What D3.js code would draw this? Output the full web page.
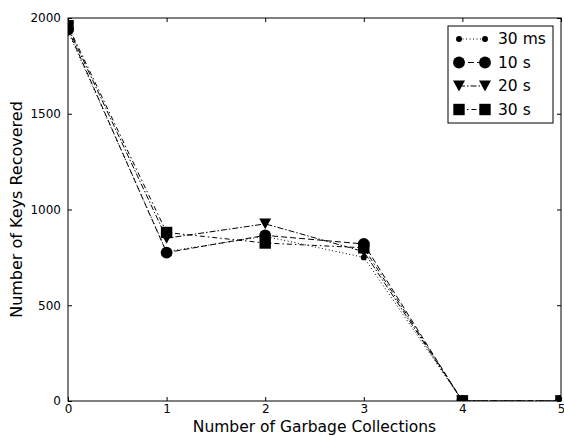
<!DOCTYPE html>
<html>
<head>
<meta charset="utf-8">
<script src="https://d3js.org/d3.v7.min.js"></script>
<style>
  html, body { margin: 0; padding: 0; background: #fff; }
  svg text { font-family: "DejaVu Sans", sans-serif; fill: #000; }
</style>
</head>
<body>
<svg id="chart" width="564" height="436"></svg>
<script>
// Garbage collections performed vs. keys still recoverable from memory
const collections = [0, 1, 2, 3, 4, 5];
const seriesNames = ["30 ms", "10 s", "20 s", "30 s"];
const keys30ms = [1930, 780, 860, 750, 0, 0];
const keys10s  = [1940, 775, 865, 820, 0, 0];
const keys20s  = [1950, 850, 925, 780, 0, 0];
const keys30s  = [1960, 880, 825, 800, 0, 0];
const xTicks = [0, 1, 2, 3, 4, 5];
const yTicks = [0, 500, 1000, 1500, 2000];

const series = [
  { name: seriesNames[0], values: keys30ms, dash: "1,2.5", symbol: d3.symbolCircle, size: 28 },
  { name: seriesNames[1], values: keys10s,  dash: "6,3",   symbol: d3.symbolCircle, size: 110 },
  { name: seriesNames[2], values: keys20s,  dash: "6,2,1.5,2", symbol: "tri", size: 12 },
  { name: seriesNames[3], values: keys30s,  dash: "5,3,1.5,3", symbol: d3.symbolSquare, size: 130 }
];

const svg = d3.select("#chart");
const m = { left: 68, right: 561, top: 18, bottom: 401 };

const x = d3.scaleLinear().domain([0, 5]).range([m.left, m.right]);
const y = d3.scaleLinear().domain([0, 2000]).range([m.bottom, m.top]);

svg.append("defs").append("clipPath").attr("id", "plotClip")
  .append("rect")
  .attr("x", m.left).attr("y", m.top)
  .attr("width", m.right - m.left).attr("height", m.bottom - m.top);

// downward triangle path of side s centered at origin
function triPath(s) {
  const h = s * 0.9;
  return `M${-s / 2},${-h / 2}L${s / 2},${-h / 2}L0,${h / 2}Z`;
}
function markerPath(sr) {
  if (sr.symbol === "tri") return triPath(sr.size);
  return d3.symbol().type(sr.symbol).size(sr.size)();
}

const plot = svg.append("g").attr("clip-path", "url(#plotClip)");
const line = d3.line().x((d, i) => x(collections[i])).y(d => y(d));

series.forEach(sr => {
  plot.append("path")
    .attr("d", line(sr.values))
    .attr("fill", "none")
    .attr("stroke", "#000")
    .attr("stroke-width", 1)
    .attr("stroke-dasharray", sr.dash);
  plot.selectAll(null).data(sr.values).enter().append("path")
    .attr("d", markerPath(sr))
    .attr("transform", (d, i) => `translate(${x(collections[i])},${y(d)})`)
    .attr("fill", "#000");
});

// axes frame
svg.append("rect")
  .attr("x", m.left).attr("y", m.top)
  .attr("width", m.right - m.left).attr("height", m.bottom - m.top)
  .attr("fill", "none").attr("stroke", "#000").attr("stroke-width", 1);

// inward ticks on all four sides, classic style
const bottomAxis = d3.axisBottom(x).tickValues(xTicks).tickSize(-4).tickPadding(3).tickFormat(d3.format("d"));
const topAxis = d3.axisTop(x).tickValues(xTicks).tickSize(-4).tickFormat("");
const leftAxis = d3.axisLeft(y).tickValues(yTicks).tickSize(-4).tickPadding(7).tickFormat(d3.format("d"));
const rightAxis = d3.axisRight(y).tickValues(yTicks).tickSize(-4).tickFormat("");

function styleAxis(g) {
  g.select(".domain").remove();
  g.selectAll("line").attr("stroke", "#000");
  g.selectAll("text").attr("font-size", 12).attr("font-family", "DejaVu Sans, sans-serif");
}
svg.append("g").attr("transform", `translate(0,${m.bottom})`).call(bottomAxis).call(styleAxis);
svg.append("g").attr("transform", `translate(0,${m.top})`).call(topAxis).call(styleAxis);
svg.append("g").attr("transform", `translate(${m.left},0)`).call(leftAxis).call(styleAxis);
svg.append("g").attr("transform", `translate(${m.right},0)`).call(rightAxis).call(styleAxis);

// axis titles
svg.append("text")
  .attr("x", (m.left + m.right) / 2).attr("y", 432)
  .attr("text-anchor", "middle").attr("font-size", 15.5)
  .text("Number of Garbage Collections");
svg.append("text")
  .attr("transform", `translate(22,${(m.top + m.bottom) / 2}) rotate(-90)`)
  .attr("text-anchor", "middle").attr("font-size", 16)
  .text("Number of Keys Recovered");

// legend
const lg = svg.append("g").attr("transform", "translate(448,26)");
lg.append("rect").attr("width", 105).attr("height", 97)
  .attr("fill", "#fff").attr("stroke", "#000").attr("stroke-width", 1);
series.forEach((sr, i) => {
  const ry = 13 + i * 23.5;
  lg.append("line").attr("x1", 11).attr("x2", 37).attr("y1", ry).attr("y2", ry)
    .attr("stroke", "#000").attr("stroke-dasharray", sr.dash);
  [11, 37].forEach(px => {
    lg.append("path").attr("d", markerPath(sr))
      .attr("transform", `translate(${px},${ry})`).attr("fill", "#000");
  });
  lg.append("text").attr("x", 50).attr("y", ry + 5).attr("font-size", 15.5).text(sr.name);
});
</script>
</body>
</html>
